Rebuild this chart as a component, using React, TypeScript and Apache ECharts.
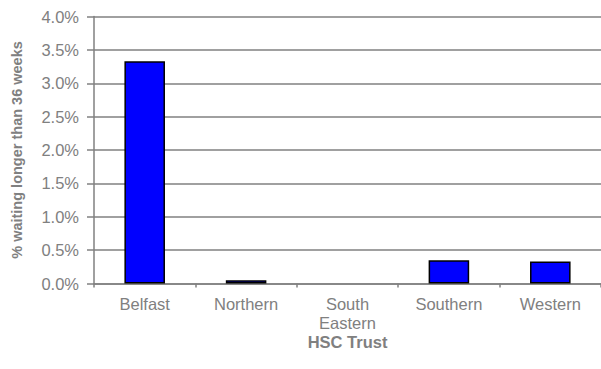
import React, { useEffect, useRef } from "react";
import * as echarts from "echarts";

const categories = ["Belfast", "Northern", "South\nEastern", "Southern", "Western"];
const values = [3.33, 0.05, 0, 0.35, 0.33];
const yTicks = { min: 0, max: 4, interval: 0.5 };
const yTitle = "% waiting longer than 36 weeks";
const xTitle = "HSC Trust";

export default function App() {
  const ref = useRef<HTMLDivElement>(null);
  useEffect(() => {
    const chart = echarts.init(ref.current!, undefined, { renderer: "svg" });
    const gray = "#808080";
    const font = "Liberation Sans, Arial, sans-serif";
    chart.setOption({
      animation: false,
      grid: { left: 94, top: 16.5, right: -1, bottom: 85.5 },
      xAxis: {
        type: "category",
        data: categories,
        name: xTitle,
        nameLocation: "middle",
        nameGap: 50,
        nameMoveOverlap: false,
        nameTextStyle: { color: gray, fontSize: 16.5, fontWeight: "bold", fontFamily: font },
        axisLine: { lineStyle: { color: gray, width: 1.5 } },
        axisTick: { show: true, length: 4, lineStyle: { color: gray, width: 1.5 } },
        axisLabel: { color: gray, fontSize: 16.5, fontFamily: font, margin: 11, lineHeight: 19 },
      },
      yAxis: {
        type: "value",
        min: yTicks.min,
        max: yTicks.max,
        interval: yTicks.interval,
        name: yTitle,
        nameLocation: "middle",
        nameGap: 70,
        nameMoveOverlap: false,
        nameTextStyle: { color: gray, fontSize: 14.5, fontWeight: "bold", fontFamily: font },
        axisLine: { show: true, lineStyle: { color: gray, width: 1.5 } },
        axisTick: { show: true, length: 7, lineStyle: { color: gray, width: 1.5 } },
        axisLabel: {
          color: gray,
          fontSize: 16.5,
          fontFamily: font,
          margin: 15,
          formatter: (v: number) => v.toFixed(1) + "%",
        },
        splitLine: { show: true, lineStyle: { color: gray, width: 1.5 } },
      },
      series: [
        {
          type: "bar",
          data: values.map((v) => (v === 0 ? { value: v, itemStyle: { borderWidth: 0 } } : v)),
          barWidth: "40%",
          itemStyle: { color: "#0000FF", borderColor: "#000000", borderWidth: 1.5 },
        },
      ],
    });
    return () => chart.dispose();
  }, []);
  return <div ref={ref} style={{ width: 601, height: 369, position: "absolute", left: 0, top: 0 }} />;
}
